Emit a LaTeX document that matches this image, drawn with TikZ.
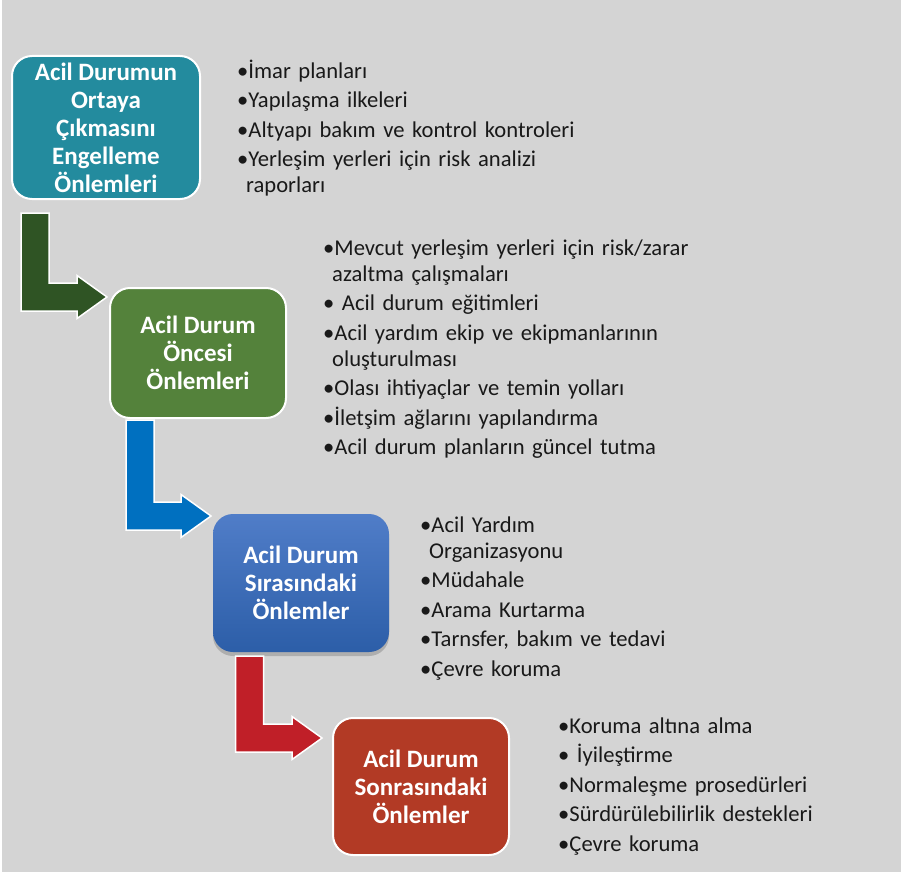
\documentclass[tikz,border=0pt]{standalone}
\usepackage{fontspec}
\setmainfont{Carlito}
\usetikzlibrary{positioning,calc,shadows}

\definecolor{bggray}{RGB}{212,212,212}
\definecolor{boxteal}{RGB}{35,139,158}
\definecolor{boxgreen}{RGB}{84,130,59}
\definecolor{boxbluetop}{RGB}{80,125,200}
\definecolor{boxbluebot}{RGB}{44,94,168}
\definecolor{boxred}{RGB}{178,58,37}
\definecolor{arrgreen}{RGB}{47,84,36}
\definecolor{arrblue}{RGB}{0,112,192}
\definecolor{arrred}{RGB}{192,31,40}
\definecolor{listtext}{RGB}{25,25,25}

\newcommand{\firstblt}{\parskip=3.5pt\hangindent=9pt\hangafter=1 •}
\newcommand{\blt}{\par\firstblt}
\newcommand{\bentarrow}[3]{%
  \draw[bentline, fill=#1] let \p1=(#2), \p2=(#3) in
    (\x1-14pt,\y1) -- (\x1+14pt,\y1) -- (\x1+14pt,\y2+14pt) -- (\x2-30pt,\y2+14pt)
    -- (\x2-30pt,\y2+21.5pt) -- (\x2,\y2) -- (\x2-30pt,\y2-21.5pt)
    -- (\x2-30pt,\y2-14pt) -- (\x1-14pt,\y2-14pt) -- cycle;}

\begin{document}
\begin{tikzpicture}[x=1pt, y=-1pt,
                    stepbox/.style={rounded corners=20pt, draw=white, line width=2pt, text=white, inner sep=0pt, align=center, font=\fontsize{25}{28}\selectfont\bfseries},
                    itemlist/.style={anchor=base west, inner sep=0pt, text width=420pt, align=left, text=listtext, font=\fontsize{22.6}{26}\selectfont},
                    bentline/.style={draw=white, line width=1.5pt, line join=miter},
                ]
                    \useasboundingbox (0,0) rectangle (901,875);
                    \fill[white] (0,0) rectangle (901,875);
                    \fill[bggray] (2,0) rectangle (901,872);

                    %Nodes
                    \node[stepbox, fill=boxteal, minimum width=188pt, minimum height=143pt](box1) at (106,127.5) {Acil Durumun\\Ortaya\\Çıkmasını\\Engelleme\\Önlemleri};
                    \node[stepbox, fill=boxgreen, minimum width=176pt, minimum height=130pt](box2) at (198,353) {Acil Durum\\Öncesi\\Önlemleri};
                    \node[stepbox, draw=none, top color=boxbluetop, bottom color=boxbluebot, minimum width=176pt, minimum height=138pt,
                          drop shadow={shadow xshift=0pt, shadow yshift=-4pt, opacity=0.45}](box3) at (301,583) {Acil Durum\\Sırasındaki\\Önlemler};
                    \node[stepbox, fill=boxred, minimum width=176pt, minimum height=137pt](box4) at (421,786.5) {Acil Durum\\Sonrasındaki\\Önlemler};

                    \node[itemlist](list1) at (237,78) {\firstblt İmar planları \blt Yapılaşma ilkeleri \blt Altyapı bakım ve kontrol kontroleri \blt Yerleşim yerleri için risk analizi\newline raporları\par};
                    \node[itemlist](list2) at (323,255) {\firstblt Mevcut yerleşim yerleri için risk/zarar\newline azaltma çalışmaları \blt\ Acil durum eğitimleri \blt Acil yardım ekip ve ekipmanlarının\newline oluşturulması \blt Olası ihtiyaçlar ve temin yolları \blt İletşim ağlarını yapılandırma \blt Acil durum planların güncel tutma\par};
                    \node[itemlist](list3) at (420,532) {\firstblt Acil Yardım\newline Organizasyonu \blt Müdahale \blt Arama Kurtarma \blt Tarnsfer, bakım ve tedavi \blt Çevre koruma\par};
                    \node[itemlist](list4) at (558,733) {\firstblt Koruma altına alma \blt\ İyileştirme \blt Normaleşme prosedürleri \blt Sürdürülebilirlik destekleri \blt Çevre koruma\par};

                    %Arrows
                    \coordinate (s1) at ([xshift=24pt,yshift=-13pt]box1.south west);
                    \coordinate (t1) at ([xshift=-2pt,yshift=-10pt]box2.north west);
                    \coordinate (s2) at ([xshift=31pt,yshift=-1pt]box2.south west);
                    \coordinate (t2) at ([xshift=-1pt,yshift=-3pt]box3.north west);
                    \coordinate (s3) at ([xshift=37.5pt,yshift=-3pt]box3.south west);
                    \coordinate (t3) at ([xshift=-10pt,yshift=-21pt]box4.north west);
                    \bentarrow{arrgreen}{s1}{t1}
                    \bentarrow{arrblue}{s2}{t2}
                    \bentarrow{arrred}{s3}{t3}
                \end{tikzpicture}
\end{document}
